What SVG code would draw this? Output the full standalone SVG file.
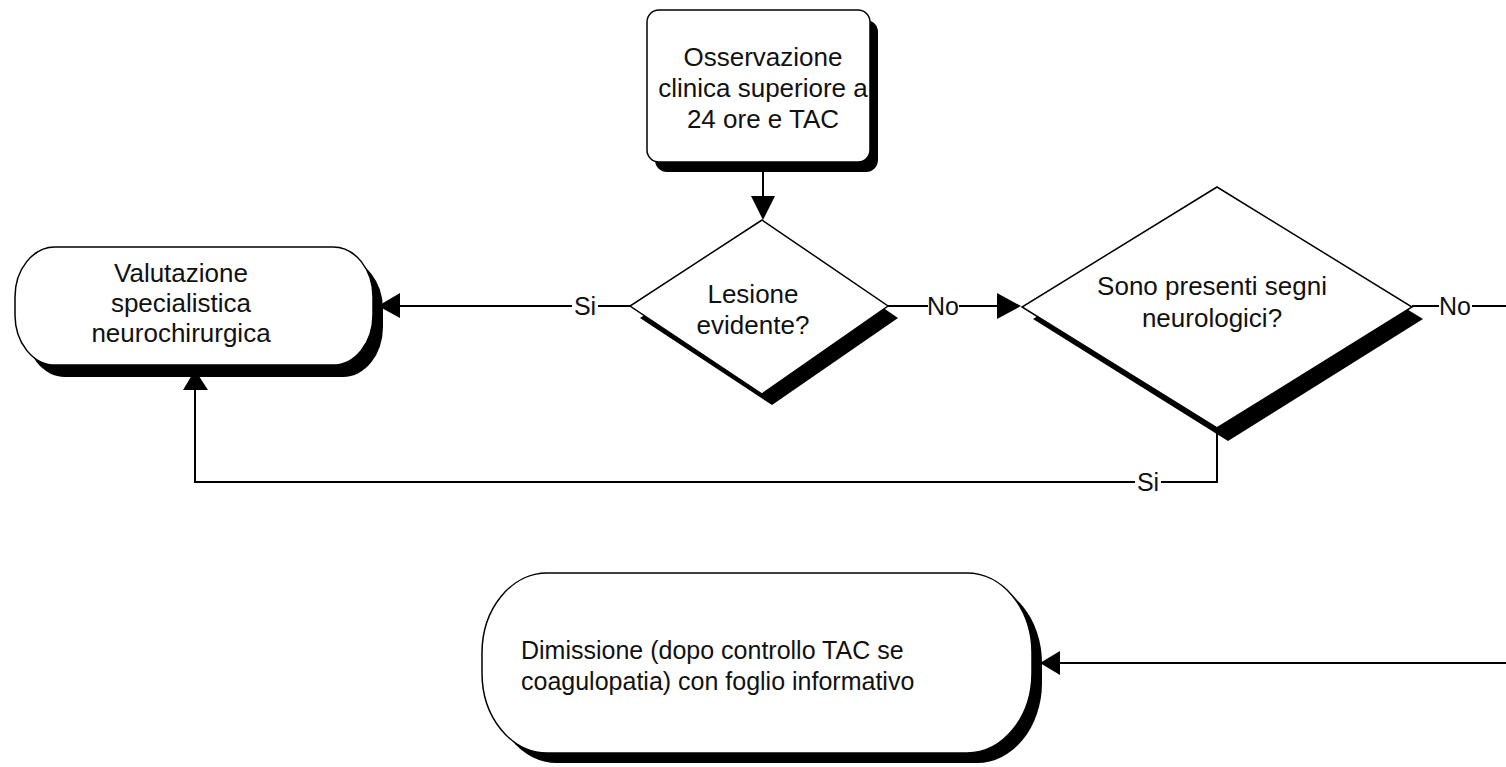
<svg xmlns="http://www.w3.org/2000/svg" width="1506" height="767" viewBox="0 0 1506 767">
<style>
.shadow{fill:#000}
.shape{fill:#fff;stroke:#000;stroke-width:1.5}
.t{font-family:"Liberation Sans",Arial,sans-serif;font-size:26px;fill:#111;text-anchor:middle}
.tl{font-family:"Liberation Sans",Arial,sans-serif;font-size:25px;fill:#111}
.lbl{font-family:"Liberation Sans",Arial,sans-serif;font-size:25px;fill:#111;text-anchor:middle}
.line{fill:none;stroke:#000;stroke-width:2}
.arrow{fill:#000}
.bg{fill:#fff}
</style>
<rect width="1506" height="767" fill="#fff"/>
<g id="connectors">
<line class="line" x1="763" y1="170" x2="763" y2="198"/>
<polygon class="arrow" points="751,196 775,196 763,220"/>
<line class="line" x1="630" y1="306" x2="398" y2="306"/>
<polygon class="arrow" points="400,293 400,318 378,306"/>
<line class="line" x1="888" y1="306" x2="999" y2="306"/>
<polygon class="arrow" points="997,293 997,319 1021,306"/>
<line class="line" x1="1412" y1="306" x2="1506" y2="306"/>
<line class="line" x1="1506" y1="663" x2="1058" y2="663"/>
<polygon class="arrow" points="1060,651 1060,675 1040,663"/>
<polyline class="line" points="1217,428 1217,482 195,482 195,388"/>
<polygon class="arrow" points="183,390 208,390 195,370"/>
<rect class="bg" x="572" y="293" width="26" height="26"/>
<text class="lbl" x="585" y="315">Si</text>
<rect class="bg" x="928" y="293" width="31" height="26"/>
<text class="lbl" x="943" y="315">No</text>
<rect class="bg" x="1439" y="293" width="33" height="26"/>
<text class="lbl" x="1455" y="315">No</text>
<rect class="bg" x="1135" y="469" width="26" height="26"/>
<text class="lbl" x="1148" y="491">Si</text>
</g>
<g id="n-osservazione">
<rect class="shadow" x="655" y="20" width="223" height="152" rx="12"/>
<rect class="shape" x="647" y="10" width="223" height="152" rx="12"/>
<text class="t" x="763" y="66">Osservazione</text>
<text class="t" x="763" y="97">clinica superiore a</text>
<text class="t" x="763" y="128">24 ore e TAC</text>
</g>
<g id="n-lesione">
<polygon class="shadow" points="772,232 898,318 772,405 640,318"/>
<polygon class="shape" points="762,220 888,306 762,394 630,306"/>
<text class="t" x="753" y="303">Lesione</text>
<text class="t" x="753" y="334">evidente?</text>
</g>
<g id="n-segni">
<polygon class="shadow" points="1228,199 1423,319 1228,441 1033,319"/>
<polygon class="shape" points="1217,187 1412,307 1217,428 1022,307"/>
<text class="t" x="1212" y="295">Sono presenti segni</text>
<text class="t" x="1212" y="327">neurologici?</text>
</g>
<g id="n-valutazione">
<rect class="shadow" x="25" y="259" width="358" height="118" rx="40" ry="50"/>
<rect class="shape" x="15" y="247" width="358" height="118" rx="40" ry="50"/>
<text class="t" x="181" y="282">Valutazione</text>
<text class="t" x="181" y="312">specialistica</text>
<text class="t" x="181" y="342">neurochirurgica</text>
</g>
<g id="n-dimissione">
<rect class="shadow" x="492" y="583" width="550" height="180" rx="65" ry="80"/>
<rect class="shape" x="482" y="573" width="550" height="180" rx="65" ry="80"/>
<text class="tl" x="521" y="659">Dimissione (dopo controllo TAC se</text>
<text class="tl" x="521" y="690">coagulopatia) con foglio informativo</text>
</g>
</svg>
